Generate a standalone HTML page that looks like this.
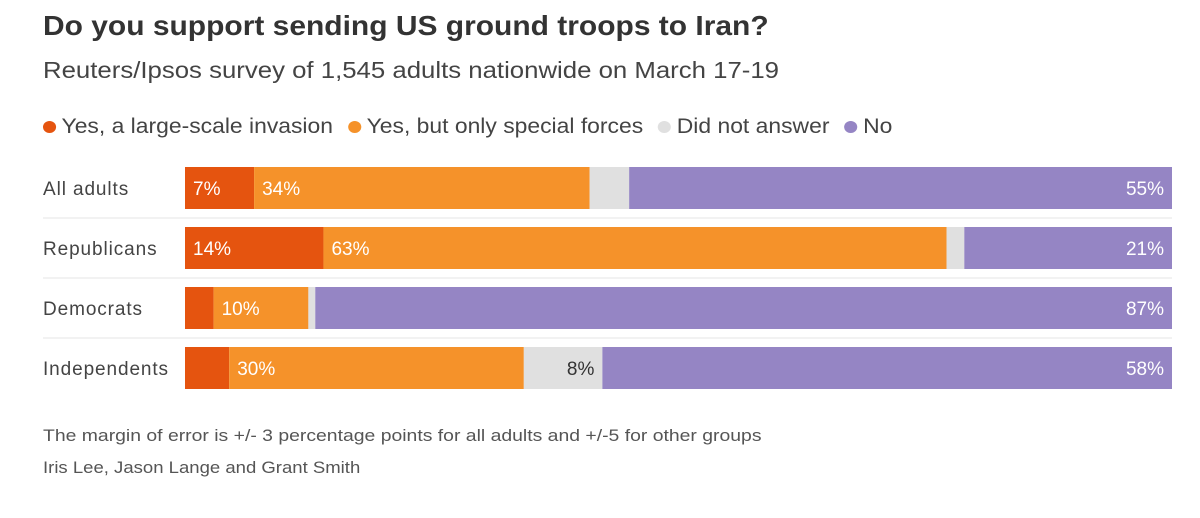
<!DOCTYPE html>
<html><head><meta charset="utf-8"><style>
body{margin:0;background:#fff;width:1200px;height:518px;overflow:hidden;font-family:"Liberation Sans",sans-serif;color:#333}
.t{position:absolute;white-space:nowrap;transform-origin:left top}
</style></head><body>
<div class="t" style="left:43px;top:10px;font-size:28px;font-weight:bold;color:#333;transform:scaleX(1.07)">Do you support sending US ground troops to Iran?</div>
<div class="t" style="left:43px;top:57px;font-size:23px;color:#444;transform:scaleX(1.12)">Reuters/Ipsos survey of 1,545 adults nationwide on March 17-19</div>
<div class="t" style="left:43px;top:115px;font-size:21px;color:#444;transform:scaleX(1.09)">
<span><span style="display:inline-block;width:12px;height:12px;border-radius:6px;background:#e5540f;margin-right:5px"></span>Yes, a large-scale invasion</span>
<span style="margin-left:8px"><span style="display:inline-block;width:12px;height:12px;border-radius:6px;background:#f5922a;margin-right:5px"></span>Yes, but only special forces</span>
<span style="margin-left:8px"><span style="display:inline-block;width:12px;height:12px;border-radius:6px;background:#e0e0e0;margin-right:5px"></span>Did not answer</span>
<span style="margin-left:8px"><span style="display:inline-block;width:12px;height:12px;border-radius:6px;background:#9585c4;margin-right:5px"></span>No</span>
</div>
<svg id="chart" width="1200" height="518" style="position:absolute;left:0;top:0"></svg>
<div class="t" style="left:43px;top:426px;font-size:17px;color:#555;transform:scaleX(1.14)">The margin of error is +/- 3 percentage points for all adults and +/-5 for other groups</div>
<div class="t" style="left:43px;top:458px;font-size:17px;color:#555;transform:scaleX(1.09)">Iris Lee, Jason Lange and Grant Smith</div>
<script>
const categories=["All adults","Republicans","Democrats","Independents"];
const invasion=[7,14,2.9,4.5];
const specialForces=[34,63,9.6,30];
const noAnswer=[4,1.8,0.7,8];
const no=[55,21,86.8,58];
const invasionLabels=["7%","14%","",""];
const specialLabels=["34%","63%","10%","30%"];
const noAnswerLabels=["","","","8%"];
const noLabels=["55%","21%","87%","58%"];
const series=[invasion,specialForces,noAnswer,no];
const labels=[invasionLabels,specialLabels,noAnswerLabels,noLabels];
const colors=["#e5540f","#f5922a","#e0e0e0","#9585c4"];
const textColors=["#fff","#fff","#333","#fff"];
const names=["invasion","special-forces","no-answer","no"];
const svg=document.getElementById('chart');
const NS="http://www.w3.org/2000/svg";
const x0=185,x1=1172,rowTop=167,rowStep=60,barH=42;
categories.forEach((c,i)=>{
  const y=rowTop+i*rowStep;
  const total=series.reduce((s,a)=>s+a[i],0);
  const xs=v=>v/total*(x1-x0);
  const lbl=document.createElementNS(NS,'text');
  
  
  lbl.setAttribute('x',43);lbl.setAttribute('y',y+barH/2+7);
  lbl.setAttribute('font-size','19');lbl.setAttribute('fill','#444');
  lbl.setAttribute('letter-spacing','0.9');
  lbl.textContent=c;svg.appendChild(lbl);
  if(i<categories.length-1){
    const ln=document.createElementNS(NS,'line');
    
    
    ln.setAttribute('x1',43);ln.setAttribute('x2',x1);
    ln.setAttribute('y1',y+barH+9);ln.setAttribute('y2',y+barH+9);
    ln.setAttribute('stroke','#e6e6e6');svg.appendChild(ln);
  }
  let cx=x0;
  series.forEach((s,k)=>{
    const w=xs(s[i]);
    const r=document.createElementNS(NS,'rect');
    
    
    r.setAttribute('x',cx);r.setAttribute('y',y);r.setAttribute('width',w);r.setAttribute('height',barH);
    r.setAttribute('fill',colors[k]);svg.appendChild(r);
    const lt=labels[k][i];
    if(lt){
      const t=document.createElementNS(NS,'text');
      
      
      t.setAttribute('y',y+barH/2+7);t.setAttribute('font-size','19');t.setAttribute('fill',textColors[k]);
      if(k===3||k===2){t.setAttribute('x',cx+w-8);t.setAttribute('text-anchor','end');}
      else t.setAttribute('x',cx+8);
      t.textContent=lt;svg.appendChild(t);
    }
    cx+=w;
  });
});
</script>
</body></html>
